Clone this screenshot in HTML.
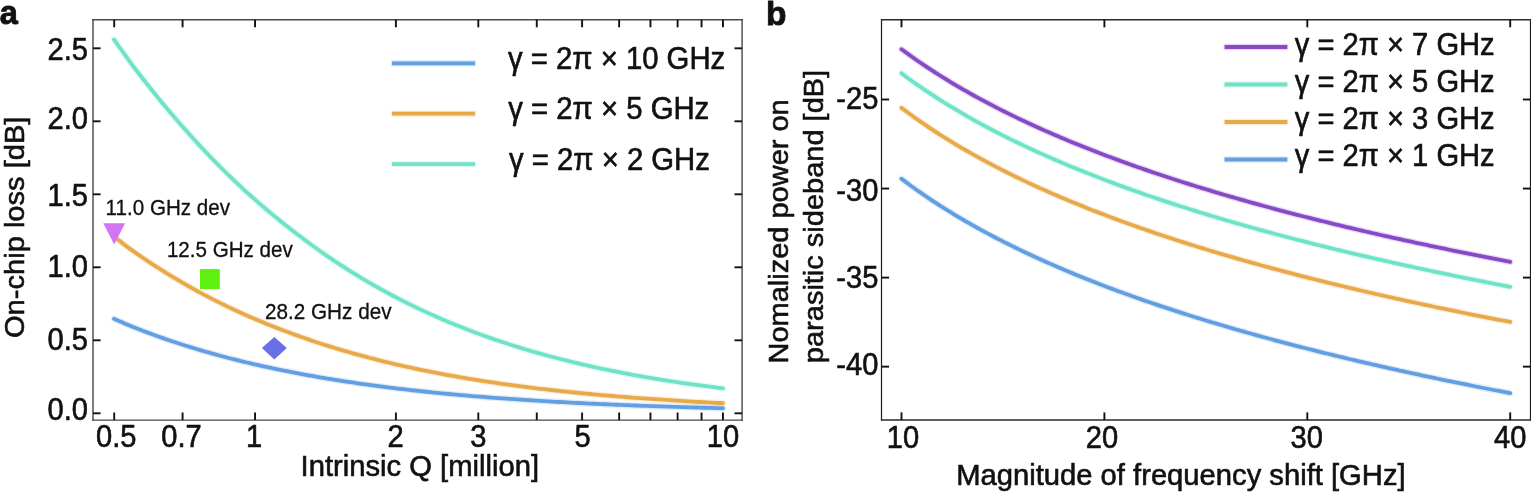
<!DOCTYPE html>
<html lang="en"><head><meta charset="utf-8"><title>Figure</title>
<style>
html,body{margin:0;padding:0;background:#fff;}
body{width:1531px;height:492px;overflow:hidden;}
svg{display:block;}
</style></head>
<body>
<svg width="1531" height="492" viewBox="0 0 1531 492" role="img" aria-label="Figure with panels a and b">
<rect width="1531" height="492" fill="#fff"/>
<path d="M114.00,39.55 L117.76,44.81 L121.46,50.01 L125.13,55.16 L128.81,60.26 L132.53,65.30 L136.33,70.29 L140.13,75.22 L143.94,80.10 L147.74,84.93 L151.55,89.70 L155.35,94.42 L159.16,99.08 L162.96,103.69 L166.77,108.25 L170.57,112.76 L174.38,117.22 L178.18,121.62 L181.98,125.97 L185.79,130.27 L189.59,134.52 L193.40,138.72 L197.20,142.87 L201.01,146.96 L204.81,151.01 L208.62,155.01 L212.42,158.96 L216.23,162.85 L220.03,166.70 L223.84,170.50 L227.64,174.26 L231.45,177.96 L235.27,181.62 L239.10,185.23 L242.95,188.79 L246.81,192.31 L250.67,195.78 L254.54,199.20 L258.41,202.58 L262.28,205.92 L266.15,209.21 L270.01,212.45 L273.87,215.65 L277.73,218.81 L281.57,221.93 L285.40,225.00 L289.22,228.03 L293.02,231.01 L296.83,233.96 L300.63,236.86 L304.43,239.73 L308.24,242.55 L312.04,245.33 L315.85,248.08 L319.65,250.78 L323.46,253.44 L327.26,256.07 L331.07,258.66 L334.87,261.21 L338.68,263.72 L342.48,266.20 L346.29,268.64 L350.09,271.04 L353.90,273.41 L357.70,275.74 L361.51,278.04 L365.31,280.30 L369.11,282.53 L372.92,284.73 L376.72,286.89 L380.53,289.02 L384.33,291.12 L388.14,293.18 L391.94,295.22 L395.75,297.22 L399.55,299.19 L403.36,301.13 L407.16,303.04 L410.97,304.92 L414.77,306.77 L418.58,308.59 L422.38,310.38 L426.19,312.15 L429.99,313.88 L433.79,315.59 L437.60,317.28 L441.40,318.93 L445.21,320.56 L449.01,322.16 L452.82,323.74 L456.62,325.29 L460.43,326.82 L464.23,328.32 L468.04,329.79 L471.84,331.25 L475.65,332.68 L479.45,334.08 L483.26,335.47 L487.06,336.83 L490.87,338.16 L494.67,339.48 L498.47,340.77 L502.28,342.05 L506.08,343.30 L509.89,344.53 L513.69,345.74 L517.50,346.93 L521.30,348.10 L525.11,349.25 L528.91,350.38 L532.72,351.49 L536.52,352.58 L540.33,353.66 L544.13,354.72 L547.94,355.75 L551.74,356.78 L555.55,357.78 L559.35,358.77 L563.15,359.74 L566.96,360.69 L570.76,361.63 L574.57,362.55 L578.37,363.45 L582.18,364.34 L585.98,365.22 L589.79,366.08 L593.59,366.92 L597.40,367.75 L601.20,368.57 L605.01,369.37 L608.81,370.16 L612.62,370.93 L616.42,371.69 L620.23,372.44 L624.03,373.17 L627.83,373.90 L631.64,374.60 L635.44,375.30 L639.25,375.99 L643.05,376.66 L646.86,377.32 L650.66,377.97 L654.47,378.61 L658.27,379.23 L662.08,379.85 L665.88,380.45 L669.69,381.05 L673.49,381.63 L677.30,382.20 L681.10,382.77 L684.90,383.32 L688.71,383.86 L692.51,384.40 L696.32,384.92 L700.12,385.44 L703.93,385.94 L707.73,386.44 L711.54,386.93 L715.34,387.41 L719.15,387.88 L722.95,388.34" fill="none" stroke="#6fe3c8" stroke-opacity="0.2" stroke-width="6.4" stroke-linejoin="round" stroke-linecap="round"/>
<path d="M114.00,39.55 L117.76,44.81 L121.46,50.01 L125.13,55.16 L128.81,60.26 L132.53,65.30 L136.33,70.29 L140.13,75.22 L143.94,80.10 L147.74,84.93 L151.55,89.70 L155.35,94.42 L159.16,99.08 L162.96,103.69 L166.77,108.25 L170.57,112.76 L174.38,117.22 L178.18,121.62 L181.98,125.97 L185.79,130.27 L189.59,134.52 L193.40,138.72 L197.20,142.87 L201.01,146.96 L204.81,151.01 L208.62,155.01 L212.42,158.96 L216.23,162.85 L220.03,166.70 L223.84,170.50 L227.64,174.26 L231.45,177.96 L235.27,181.62 L239.10,185.23 L242.95,188.79 L246.81,192.31 L250.67,195.78 L254.54,199.20 L258.41,202.58 L262.28,205.92 L266.15,209.21 L270.01,212.45 L273.87,215.65 L277.73,218.81 L281.57,221.93 L285.40,225.00 L289.22,228.03 L293.02,231.01 L296.83,233.96 L300.63,236.86 L304.43,239.73 L308.24,242.55 L312.04,245.33 L315.85,248.08 L319.65,250.78 L323.46,253.44 L327.26,256.07 L331.07,258.66 L334.87,261.21 L338.68,263.72 L342.48,266.20 L346.29,268.64 L350.09,271.04 L353.90,273.41 L357.70,275.74 L361.51,278.04 L365.31,280.30 L369.11,282.53 L372.92,284.73 L376.72,286.89 L380.53,289.02 L384.33,291.12 L388.14,293.18 L391.94,295.22 L395.75,297.22 L399.55,299.19 L403.36,301.13 L407.16,303.04 L410.97,304.92 L414.77,306.77 L418.58,308.59 L422.38,310.38 L426.19,312.15 L429.99,313.88 L433.79,315.59 L437.60,317.28 L441.40,318.93 L445.21,320.56 L449.01,322.16 L452.82,323.74 L456.62,325.29 L460.43,326.82 L464.23,328.32 L468.04,329.79 L471.84,331.25 L475.65,332.68 L479.45,334.08 L483.26,335.47 L487.06,336.83 L490.87,338.16 L494.67,339.48 L498.47,340.77 L502.28,342.05 L506.08,343.30 L509.89,344.53 L513.69,345.74 L517.50,346.93 L521.30,348.10 L525.11,349.25 L528.91,350.38 L532.72,351.49 L536.52,352.58 L540.33,353.66 L544.13,354.72 L547.94,355.75 L551.74,356.78 L555.55,357.78 L559.35,358.77 L563.15,359.74 L566.96,360.69 L570.76,361.63 L574.57,362.55 L578.37,363.45 L582.18,364.34 L585.98,365.22 L589.79,366.08 L593.59,366.92 L597.40,367.75 L601.20,368.57 L605.01,369.37 L608.81,370.16 L612.62,370.93 L616.42,371.69 L620.23,372.44 L624.03,373.17 L627.83,373.90 L631.64,374.60 L635.44,375.30 L639.25,375.99 L643.05,376.66 L646.86,377.32 L650.66,377.97 L654.47,378.61 L658.27,379.23 L662.08,379.85 L665.88,380.45 L669.69,381.05 L673.49,381.63 L677.30,382.20 L681.10,382.77 L684.90,383.32 L688.71,383.86 L692.51,384.40 L696.32,384.92 L700.12,385.44 L703.93,385.94 L707.73,386.44 L711.54,386.93 L715.34,387.41 L719.15,387.88 L722.95,388.34" fill="none" stroke="#6fe3c8" stroke-width="3.8" stroke-linejoin="round" stroke-linecap="round"/>
<path d="M114.00,236.69 L117.76,239.55 L121.46,242.38 L125.13,245.16 L128.81,247.91 L132.53,250.61 L136.33,253.28 L140.13,255.91 L143.94,258.50 L147.74,261.05 L151.55,263.57 L155.35,266.05 L159.16,268.49 L162.96,270.90 L166.77,273.27 L170.57,275.60 L174.38,277.90 L178.18,280.17 L181.98,282.40 L185.79,284.60 L189.59,286.76 L193.40,288.89 L197.20,290.99 L201.01,293.06 L204.81,295.09 L208.62,297.10 L212.42,299.07 L216.23,301.01 L220.03,302.92 L223.84,304.80 L227.64,306.66 L231.45,308.48 L235.27,310.27 L239.10,312.04 L242.95,313.78 L246.81,315.49 L250.67,317.17 L254.54,318.83 L258.41,320.46 L262.28,322.06 L266.15,323.64 L270.01,325.19 L273.87,326.72 L277.73,328.23 L281.57,329.70 L285.40,331.16 L289.22,332.59 L293.02,334.00 L296.83,335.38 L300.63,336.74 L304.43,338.08 L308.24,339.40 L312.04,340.69 L315.85,341.97 L319.65,343.22 L323.46,344.45 L327.26,345.66 L331.07,346.85 L334.87,348.03 L338.68,349.18 L342.48,350.31 L346.29,351.42 L350.09,352.52 L353.90,353.59 L357.70,354.65 L361.51,355.69 L365.31,356.71 L369.11,357.72 L372.92,358.71 L376.72,359.68 L380.53,360.63 L384.33,361.57 L388.14,362.49 L391.94,363.40 L395.75,364.29 L399.55,365.16 L403.36,366.02 L407.16,366.87 L410.97,367.70 L414.77,368.52 L418.58,369.32 L422.38,370.11 L426.19,370.88 L429.99,371.65 L433.79,372.39 L437.60,373.13 L441.40,373.85 L445.21,374.56 L449.01,375.26 L452.82,375.94 L456.62,376.62 L460.43,377.28 L464.23,377.93 L468.04,378.57 L471.84,379.19 L475.65,379.81 L479.45,380.42 L483.26,381.01 L487.06,381.59 L490.87,382.17 L494.67,382.73 L498.47,383.29 L502.28,383.83 L506.08,384.36 L509.89,384.89 L513.69,385.41 L517.50,385.91 L521.30,386.41 L525.11,386.90 L528.91,387.38 L532.72,387.85 L536.52,388.31 L540.33,388.77 L544.13,389.21 L547.94,389.65 L551.74,390.08 L555.55,390.51 L559.35,390.92 L563.15,391.33 L566.96,391.73 L570.76,392.12 L574.57,392.51 L578.37,392.89 L582.18,393.26 L585.98,393.63 L589.79,393.99 L593.59,394.34 L597.40,394.69 L601.20,395.03 L605.01,395.36 L608.81,395.69 L612.62,396.01 L616.42,396.33 L620.23,396.64 L624.03,396.94 L627.83,397.24 L631.64,397.54 L635.44,397.83 L639.25,398.11 L643.05,398.39 L646.86,398.66 L650.66,398.93 L654.47,399.19 L658.27,399.45 L662.08,399.71 L665.88,399.96 L669.69,400.20 L673.49,400.44 L677.30,400.68 L681.10,400.91 L684.90,401.14 L688.71,401.36 L692.51,401.58 L696.32,401.80 L700.12,402.01 L703.93,402.21 L707.73,402.42 L711.54,402.62 L715.34,402.82 L719.15,403.01 L722.95,403.20" fill="none" stroke="#e8a94a" stroke-opacity="0.2" stroke-width="6.4" stroke-linejoin="round" stroke-linecap="round"/>
<path d="M114.00,236.69 L117.76,239.55 L121.46,242.38 L125.13,245.16 L128.81,247.91 L132.53,250.61 L136.33,253.28 L140.13,255.91 L143.94,258.50 L147.74,261.05 L151.55,263.57 L155.35,266.05 L159.16,268.49 L162.96,270.90 L166.77,273.27 L170.57,275.60 L174.38,277.90 L178.18,280.17 L181.98,282.40 L185.79,284.60 L189.59,286.76 L193.40,288.89 L197.20,290.99 L201.01,293.06 L204.81,295.09 L208.62,297.10 L212.42,299.07 L216.23,301.01 L220.03,302.92 L223.84,304.80 L227.64,306.66 L231.45,308.48 L235.27,310.27 L239.10,312.04 L242.95,313.78 L246.81,315.49 L250.67,317.17 L254.54,318.83 L258.41,320.46 L262.28,322.06 L266.15,323.64 L270.01,325.19 L273.87,326.72 L277.73,328.23 L281.57,329.70 L285.40,331.16 L289.22,332.59 L293.02,334.00 L296.83,335.38 L300.63,336.74 L304.43,338.08 L308.24,339.40 L312.04,340.69 L315.85,341.97 L319.65,343.22 L323.46,344.45 L327.26,345.66 L331.07,346.85 L334.87,348.03 L338.68,349.18 L342.48,350.31 L346.29,351.42 L350.09,352.52 L353.90,353.59 L357.70,354.65 L361.51,355.69 L365.31,356.71 L369.11,357.72 L372.92,358.71 L376.72,359.68 L380.53,360.63 L384.33,361.57 L388.14,362.49 L391.94,363.40 L395.75,364.29 L399.55,365.16 L403.36,366.02 L407.16,366.87 L410.97,367.70 L414.77,368.52 L418.58,369.32 L422.38,370.11 L426.19,370.88 L429.99,371.65 L433.79,372.39 L437.60,373.13 L441.40,373.85 L445.21,374.56 L449.01,375.26 L452.82,375.94 L456.62,376.62 L460.43,377.28 L464.23,377.93 L468.04,378.57 L471.84,379.19 L475.65,379.81 L479.45,380.42 L483.26,381.01 L487.06,381.59 L490.87,382.17 L494.67,382.73 L498.47,383.29 L502.28,383.83 L506.08,384.36 L509.89,384.89 L513.69,385.41 L517.50,385.91 L521.30,386.41 L525.11,386.90 L528.91,387.38 L532.72,387.85 L536.52,388.31 L540.33,388.77 L544.13,389.21 L547.94,389.65 L551.74,390.08 L555.55,390.51 L559.35,390.92 L563.15,391.33 L566.96,391.73 L570.76,392.12 L574.57,392.51 L578.37,392.89 L582.18,393.26 L585.98,393.63 L589.79,393.99 L593.59,394.34 L597.40,394.69 L601.20,395.03 L605.01,395.36 L608.81,395.69 L612.62,396.01 L616.42,396.33 L620.23,396.64 L624.03,396.94 L627.83,397.24 L631.64,397.54 L635.44,397.83 L639.25,398.11 L643.05,398.39 L646.86,398.66 L650.66,398.93 L654.47,399.19 L658.27,399.45 L662.08,399.71 L665.88,399.96 L669.69,400.20 L673.49,400.44 L677.30,400.68 L681.10,400.91 L684.90,401.14 L688.71,401.36 L692.51,401.58 L696.32,401.80 L700.12,402.01 L703.93,402.21 L707.73,402.42 L711.54,402.62 L715.34,402.82 L719.15,403.01 L722.95,403.20" fill="none" stroke="#e8a94a" stroke-width="3.8" stroke-linejoin="round" stroke-linecap="round"/>
<path d="M114.00,318.86 L117.76,320.49 L121.46,322.10 L125.13,323.67 L128.81,325.23 L132.53,326.75 L136.33,328.26 L140.13,329.73 L143.94,331.19 L147.74,332.62 L151.55,334.02 L155.35,335.41 L159.16,336.77 L162.96,338.11 L166.77,339.43 L170.57,340.72 L174.38,341.99 L178.18,343.25 L181.98,344.48 L185.79,345.69 L189.59,346.88 L193.40,348.05 L197.20,349.20 L201.01,350.33 L204.81,351.45 L208.62,352.54 L212.42,353.62 L216.23,354.67 L220.03,355.71 L223.84,356.73 L227.64,357.74 L231.45,358.73 L235.27,359.70 L239.10,360.65 L242.95,361.59 L246.81,362.51 L250.67,363.42 L254.54,364.31 L258.41,365.18 L262.28,366.04 L266.15,366.89 L270.01,367.72 L273.87,368.53 L277.73,369.34 L281.57,370.13 L285.40,370.90 L289.22,371.66 L293.02,372.41 L296.83,373.14 L300.63,373.87 L304.43,374.58 L308.24,375.27 L312.04,375.96 L315.85,376.63 L319.65,377.29 L323.46,377.94 L327.26,378.58 L331.07,379.21 L334.87,379.82 L338.68,380.43 L342.48,381.02 L346.29,381.61 L350.09,382.18 L353.90,382.74 L357.70,383.30 L361.51,383.84 L365.31,384.38 L369.11,384.90 L372.92,385.42 L376.72,385.92 L380.53,386.42 L384.33,386.91 L388.14,387.39 L391.94,387.86 L395.75,388.32 L399.55,388.78 L403.36,389.22 L407.16,389.66 L410.97,390.09 L414.77,390.51 L418.58,390.93 L422.38,391.34 L426.19,391.74 L429.99,392.13 L433.79,392.52 L437.60,392.90 L441.40,393.27 L445.21,393.63 L449.01,393.99 L452.82,394.35 L456.62,394.69 L460.43,395.03 L464.23,395.37 L468.04,395.70 L471.84,396.02 L475.65,396.33 L479.45,396.64 L483.26,396.95 L487.06,397.25 L490.87,397.54 L494.67,397.83 L498.47,398.12 L502.28,398.39 L506.08,398.67 L509.89,398.94 L513.69,399.20 L517.50,399.46 L521.30,399.71 L525.11,399.96 L528.91,400.21 L532.72,400.45 L536.52,400.68 L540.33,400.91 L544.13,401.14 L547.94,401.37 L551.74,401.58 L555.55,401.80 L559.35,402.01 L563.15,402.22 L566.96,402.42 L570.76,402.62 L574.57,402.82 L578.37,403.01 L582.18,403.20 L585.98,403.39 L589.79,403.57 L593.59,403.75 L597.40,403.92 L601.20,404.10 L605.01,404.27 L608.81,404.43 L612.62,404.60 L616.42,404.76 L620.23,404.91 L624.03,405.07 L627.83,405.22 L631.64,405.37 L635.44,405.52 L639.25,405.66 L643.05,405.80 L646.86,405.94 L650.66,406.07 L654.47,406.21 L658.27,406.34 L662.08,406.47 L665.88,406.59 L669.69,406.72 L673.49,406.84 L677.30,406.96 L681.10,407.07 L684.90,407.19 L688.71,407.30 L692.51,407.41 L696.32,407.52 L700.12,407.63 L703.93,407.73 L707.73,407.84 L711.54,407.94 L715.34,408.04 L719.15,408.13 L722.95,408.23" fill="none" stroke="#629fe2" stroke-opacity="0.2" stroke-width="6.4" stroke-linejoin="round" stroke-linecap="round"/>
<path d="M114.00,318.86 L117.76,320.49 L121.46,322.10 L125.13,323.67 L128.81,325.23 L132.53,326.75 L136.33,328.26 L140.13,329.73 L143.94,331.19 L147.74,332.62 L151.55,334.02 L155.35,335.41 L159.16,336.77 L162.96,338.11 L166.77,339.43 L170.57,340.72 L174.38,341.99 L178.18,343.25 L181.98,344.48 L185.79,345.69 L189.59,346.88 L193.40,348.05 L197.20,349.20 L201.01,350.33 L204.81,351.45 L208.62,352.54 L212.42,353.62 L216.23,354.67 L220.03,355.71 L223.84,356.73 L227.64,357.74 L231.45,358.73 L235.27,359.70 L239.10,360.65 L242.95,361.59 L246.81,362.51 L250.67,363.42 L254.54,364.31 L258.41,365.18 L262.28,366.04 L266.15,366.89 L270.01,367.72 L273.87,368.53 L277.73,369.34 L281.57,370.13 L285.40,370.90 L289.22,371.66 L293.02,372.41 L296.83,373.14 L300.63,373.87 L304.43,374.58 L308.24,375.27 L312.04,375.96 L315.85,376.63 L319.65,377.29 L323.46,377.94 L327.26,378.58 L331.07,379.21 L334.87,379.82 L338.68,380.43 L342.48,381.02 L346.29,381.61 L350.09,382.18 L353.90,382.74 L357.70,383.30 L361.51,383.84 L365.31,384.38 L369.11,384.90 L372.92,385.42 L376.72,385.92 L380.53,386.42 L384.33,386.91 L388.14,387.39 L391.94,387.86 L395.75,388.32 L399.55,388.78 L403.36,389.22 L407.16,389.66 L410.97,390.09 L414.77,390.51 L418.58,390.93 L422.38,391.34 L426.19,391.74 L429.99,392.13 L433.79,392.52 L437.60,392.90 L441.40,393.27 L445.21,393.63 L449.01,393.99 L452.82,394.35 L456.62,394.69 L460.43,395.03 L464.23,395.37 L468.04,395.70 L471.84,396.02 L475.65,396.33 L479.45,396.64 L483.26,396.95 L487.06,397.25 L490.87,397.54 L494.67,397.83 L498.47,398.12 L502.28,398.39 L506.08,398.67 L509.89,398.94 L513.69,399.20 L517.50,399.46 L521.30,399.71 L525.11,399.96 L528.91,400.21 L532.72,400.45 L536.52,400.68 L540.33,400.91 L544.13,401.14 L547.94,401.37 L551.74,401.58 L555.55,401.80 L559.35,402.01 L563.15,402.22 L566.96,402.42 L570.76,402.62 L574.57,402.82 L578.37,403.01 L582.18,403.20 L585.98,403.39 L589.79,403.57 L593.59,403.75 L597.40,403.92 L601.20,404.10 L605.01,404.27 L608.81,404.43 L612.62,404.60 L616.42,404.76 L620.23,404.91 L624.03,405.07 L627.83,405.22 L631.64,405.37 L635.44,405.52 L639.25,405.66 L643.05,405.80 L646.86,405.94 L650.66,406.07 L654.47,406.21 L658.27,406.34 L662.08,406.47 L665.88,406.59 L669.69,406.72 L673.49,406.84 L677.30,406.96 L681.10,407.07 L684.90,407.19 L688.71,407.30 L692.51,407.41 L696.32,407.52 L700.12,407.63 L703.93,407.73 L707.73,407.84 L711.54,407.94 L715.34,408.04 L719.15,408.13 L722.95,408.23" fill="none" stroke="#629fe2" stroke-width="3.8" stroke-linejoin="round" stroke-linecap="round"/>
<path d="M901.50,49.28 L905.30,52.07 L909.11,54.83 L912.91,57.53 L916.72,60.19 L920.52,62.80 L924.33,65.37 L928.13,67.90 L931.93,70.39 L935.74,72.85 L939.54,75.26 L943.35,77.64 L947.15,79.98 L950.96,82.29 L954.76,84.57 L958.57,86.81 L962.37,89.02 L966.17,91.20 L969.98,93.35 L973.78,95.47 L977.59,97.57 L981.39,99.63 L985.20,101.67 L989.00,103.69 L992.80,105.67 L996.61,107.64 L1000.41,109.57 L1004.22,111.49 L1008.02,113.38 L1011.83,115.25 L1015.63,117.09 L1019.44,118.92 L1023.24,120.72 L1027.04,122.51 L1030.85,124.27 L1034.65,126.01 L1038.46,127.74 L1042.26,129.44 L1046.07,131.13 L1049.87,132.80 L1053.67,134.45 L1057.48,136.09 L1061.28,137.70 L1065.09,139.31 L1068.89,140.89 L1072.70,142.46 L1076.50,144.01 L1080.31,145.55 L1084.11,147.07 L1087.91,148.58 L1091.72,150.07 L1095.52,151.55 L1099.33,153.02 L1103.13,154.47 L1106.94,155.91 L1110.74,157.33 L1114.55,158.74 L1118.35,160.14 L1122.15,161.53 L1125.96,162.91 L1129.76,164.27 L1133.57,165.62 L1137.37,166.96 L1141.18,168.29 L1144.98,169.60 L1148.78,170.91 L1152.59,172.20 L1156.39,173.49 L1160.20,174.76 L1164.00,176.02 L1167.81,177.28 L1171.61,178.52 L1175.41,179.75 L1179.22,180.98 L1183.02,182.19 L1186.83,183.39 L1190.63,184.59 L1194.44,185.78 L1198.24,186.95 L1202.05,188.12 L1205.85,189.28 L1209.65,190.43 L1213.46,191.57 L1217.26,192.71 L1221.07,193.83 L1224.87,194.95 L1228.68,196.06 L1232.48,197.16 L1236.28,198.26 L1240.09,199.34 L1243.89,200.42 L1247.70,201.49 L1251.50,202.56 L1255.31,203.62 L1259.11,204.67 L1262.92,205.71 L1266.72,206.74 L1270.52,207.77 L1274.33,208.80 L1278.13,209.81 L1281.94,210.82 L1285.74,211.82 L1289.55,212.82 L1293.35,213.81 L1297.15,214.79 L1300.96,215.77 L1304.76,216.74 L1308.57,217.70 L1312.37,218.66 L1316.18,219.62 L1319.98,220.56 L1323.79,221.50 L1327.59,222.44 L1331.39,223.37 L1335.20,224.30 L1339.00,225.21 L1342.81,226.13 L1346.61,227.04 L1350.42,227.94 L1354.22,228.84 L1358.03,229.73 L1361.83,230.62 L1365.63,231.50 L1369.44,232.38 L1373.24,233.25 L1377.05,234.12 L1380.85,234.98 L1384.66,235.84 L1388.46,236.69 L1392.26,237.54 L1396.07,238.39 L1399.87,239.23 L1403.68,240.06 L1407.48,240.89 L1411.29,241.72 L1415.09,242.54 L1418.89,243.36 L1422.70,244.17 L1426.50,244.98 L1430.31,245.78 L1434.11,246.58 L1437.92,247.38 L1441.72,248.17 L1445.53,248.96 L1449.33,249.75 L1453.13,250.53 L1456.94,251.30 L1460.74,252.08 L1464.55,252.84 L1468.35,253.61 L1472.16,254.37 L1475.96,255.13 L1479.76,255.88 L1483.57,256.63 L1487.37,257.38 L1491.18,258.12 L1494.98,258.86 L1498.79,259.60 L1502.59,260.33 L1506.40,261.06 L1510.20,261.78" fill="none" stroke="#864ac6" stroke-opacity="0.2" stroke-width="6.4" stroke-linejoin="round" stroke-linecap="round"/>
<path d="M901.50,49.28 L905.30,52.07 L909.11,54.83 L912.91,57.53 L916.72,60.19 L920.52,62.80 L924.33,65.37 L928.13,67.90 L931.93,70.39 L935.74,72.85 L939.54,75.26 L943.35,77.64 L947.15,79.98 L950.96,82.29 L954.76,84.57 L958.57,86.81 L962.37,89.02 L966.17,91.20 L969.98,93.35 L973.78,95.47 L977.59,97.57 L981.39,99.63 L985.20,101.67 L989.00,103.69 L992.80,105.67 L996.61,107.64 L1000.41,109.57 L1004.22,111.49 L1008.02,113.38 L1011.83,115.25 L1015.63,117.09 L1019.44,118.92 L1023.24,120.72 L1027.04,122.51 L1030.85,124.27 L1034.65,126.01 L1038.46,127.74 L1042.26,129.44 L1046.07,131.13 L1049.87,132.80 L1053.67,134.45 L1057.48,136.09 L1061.28,137.70 L1065.09,139.31 L1068.89,140.89 L1072.70,142.46 L1076.50,144.01 L1080.31,145.55 L1084.11,147.07 L1087.91,148.58 L1091.72,150.07 L1095.52,151.55 L1099.33,153.02 L1103.13,154.47 L1106.94,155.91 L1110.74,157.33 L1114.55,158.74 L1118.35,160.14 L1122.15,161.53 L1125.96,162.91 L1129.76,164.27 L1133.57,165.62 L1137.37,166.96 L1141.18,168.29 L1144.98,169.60 L1148.78,170.91 L1152.59,172.20 L1156.39,173.49 L1160.20,174.76 L1164.00,176.02 L1167.81,177.28 L1171.61,178.52 L1175.41,179.75 L1179.22,180.98 L1183.02,182.19 L1186.83,183.39 L1190.63,184.59 L1194.44,185.78 L1198.24,186.95 L1202.05,188.12 L1205.85,189.28 L1209.65,190.43 L1213.46,191.57 L1217.26,192.71 L1221.07,193.83 L1224.87,194.95 L1228.68,196.06 L1232.48,197.16 L1236.28,198.26 L1240.09,199.34 L1243.89,200.42 L1247.70,201.49 L1251.50,202.56 L1255.31,203.62 L1259.11,204.67 L1262.92,205.71 L1266.72,206.74 L1270.52,207.77 L1274.33,208.80 L1278.13,209.81 L1281.94,210.82 L1285.74,211.82 L1289.55,212.82 L1293.35,213.81 L1297.15,214.79 L1300.96,215.77 L1304.76,216.74 L1308.57,217.70 L1312.37,218.66 L1316.18,219.62 L1319.98,220.56 L1323.79,221.50 L1327.59,222.44 L1331.39,223.37 L1335.20,224.30 L1339.00,225.21 L1342.81,226.13 L1346.61,227.04 L1350.42,227.94 L1354.22,228.84 L1358.03,229.73 L1361.83,230.62 L1365.63,231.50 L1369.44,232.38 L1373.24,233.25 L1377.05,234.12 L1380.85,234.98 L1384.66,235.84 L1388.46,236.69 L1392.26,237.54 L1396.07,238.39 L1399.87,239.23 L1403.68,240.06 L1407.48,240.89 L1411.29,241.72 L1415.09,242.54 L1418.89,243.36 L1422.70,244.17 L1426.50,244.98 L1430.31,245.78 L1434.11,246.58 L1437.92,247.38 L1441.72,248.17 L1445.53,248.96 L1449.33,249.75 L1453.13,250.53 L1456.94,251.30 L1460.74,252.08 L1464.55,252.84 L1468.35,253.61 L1472.16,254.37 L1475.96,255.13 L1479.76,255.88 L1483.57,256.63 L1487.37,257.38 L1491.18,258.12 L1494.98,258.86 L1498.79,259.60 L1502.59,260.33 L1506.40,261.06 L1510.20,261.78" fill="none" stroke="#864ac6" stroke-width="3.8" stroke-linejoin="round" stroke-linecap="round"/>
<path d="M901.50,73.32 L905.30,76.15 L909.11,78.94 L912.91,81.68 L916.72,84.36 L920.52,87.01 L924.33,89.61 L928.13,92.16 L931.93,94.68 L935.74,97.16 L939.54,99.59 L943.35,102.00 L947.15,104.36 L950.96,106.69 L954.76,108.98 L958.57,111.24 L962.37,113.47 L966.17,115.67 L969.98,117.84 L973.78,119.97 L977.59,122.08 L981.39,124.16 L985.20,126.21 L989.00,128.24 L992.80,130.24 L996.61,132.22 L1000.41,134.17 L1004.22,136.09 L1008.02,137.99 L1011.83,139.87 L1015.63,141.73 L1019.44,143.56 L1023.24,145.38 L1027.04,147.17 L1030.85,148.94 L1034.65,150.70 L1038.46,152.43 L1042.26,154.14 L1046.07,155.84 L1049.87,157.51 L1053.67,159.17 L1057.48,160.81 L1061.28,162.44 L1065.09,164.05 L1068.89,165.64 L1072.70,167.21 L1076.50,168.77 L1080.31,170.31 L1084.11,171.84 L1087.91,173.35 L1091.72,174.85 L1095.52,176.34 L1099.33,177.81 L1103.13,179.26 L1106.94,180.71 L1110.74,182.14 L1114.55,183.55 L1118.35,184.96 L1122.15,186.35 L1125.96,187.73 L1129.76,189.10 L1133.57,190.45 L1137.37,191.79 L1141.18,193.12 L1144.98,194.45 L1148.78,195.75 L1152.59,197.05 L1156.39,198.34 L1160.20,199.62 L1164.00,200.88 L1167.81,202.14 L1171.61,203.38 L1175.41,204.62 L1179.22,205.85 L1183.02,207.06 L1186.83,208.27 L1190.63,209.47 L1194.44,210.66 L1198.24,211.84 L1202.05,213.01 L1205.85,214.17 L1209.65,215.32 L1213.46,216.47 L1217.26,217.60 L1221.07,218.73 L1224.87,219.85 L1228.68,220.97 L1232.48,222.07 L1236.28,223.17 L1240.09,224.25 L1243.89,225.33 L1247.70,226.41 L1251.50,227.47 L1255.31,228.53 L1259.11,229.58 L1262.92,230.63 L1266.72,231.67 L1270.52,232.70 L1274.33,233.72 L1278.13,234.74 L1281.94,235.75 L1285.74,236.75 L1289.55,237.75 L1293.35,238.74 L1297.15,239.73 L1300.96,240.70 L1304.76,241.68 L1308.57,242.64 L1312.37,243.60 L1316.18,244.56 L1319.98,245.51 L1323.79,246.45 L1327.59,247.39 L1331.39,248.32 L1335.20,249.24 L1339.00,250.17 L1342.81,251.08 L1346.61,251.99 L1350.42,252.89 L1354.22,253.79 L1358.03,254.69 L1361.83,255.58 L1365.63,256.46 L1369.44,257.34 L1373.24,258.21 L1377.05,259.08 L1380.85,259.94 L1384.66,260.80 L1388.46,261.66 L1392.26,262.51 L1396.07,263.35 L1399.87,264.19 L1403.68,265.03 L1407.48,265.86 L1411.29,266.69 L1415.09,267.51 L1418.89,268.33 L1422.70,269.14 L1426.50,269.95 L1430.31,270.76 L1434.11,271.56 L1437.92,272.36 L1441.72,273.15 L1445.53,273.94 L1449.33,274.72 L1453.13,275.51 L1456.94,276.28 L1460.74,277.06 L1464.55,277.83 L1468.35,278.59 L1472.16,279.35 L1475.96,280.11 L1479.76,280.87 L1483.57,281.62 L1487.37,282.36 L1491.18,283.11 L1494.98,283.85 L1498.79,284.58 L1502.59,285.32 L1506.40,286.05 L1510.20,286.77" fill="none" stroke="#6fe3c8" stroke-opacity="0.2" stroke-width="6.4" stroke-linejoin="round" stroke-linecap="round"/>
<path d="M901.50,73.32 L905.30,76.15 L909.11,78.94 L912.91,81.68 L916.72,84.36 L920.52,87.01 L924.33,89.61 L928.13,92.16 L931.93,94.68 L935.74,97.16 L939.54,99.59 L943.35,102.00 L947.15,104.36 L950.96,106.69 L954.76,108.98 L958.57,111.24 L962.37,113.47 L966.17,115.67 L969.98,117.84 L973.78,119.97 L977.59,122.08 L981.39,124.16 L985.20,126.21 L989.00,128.24 L992.80,130.24 L996.61,132.22 L1000.41,134.17 L1004.22,136.09 L1008.02,137.99 L1011.83,139.87 L1015.63,141.73 L1019.44,143.56 L1023.24,145.38 L1027.04,147.17 L1030.85,148.94 L1034.65,150.70 L1038.46,152.43 L1042.26,154.14 L1046.07,155.84 L1049.87,157.51 L1053.67,159.17 L1057.48,160.81 L1061.28,162.44 L1065.09,164.05 L1068.89,165.64 L1072.70,167.21 L1076.50,168.77 L1080.31,170.31 L1084.11,171.84 L1087.91,173.35 L1091.72,174.85 L1095.52,176.34 L1099.33,177.81 L1103.13,179.26 L1106.94,180.71 L1110.74,182.14 L1114.55,183.55 L1118.35,184.96 L1122.15,186.35 L1125.96,187.73 L1129.76,189.10 L1133.57,190.45 L1137.37,191.79 L1141.18,193.12 L1144.98,194.45 L1148.78,195.75 L1152.59,197.05 L1156.39,198.34 L1160.20,199.62 L1164.00,200.88 L1167.81,202.14 L1171.61,203.38 L1175.41,204.62 L1179.22,205.85 L1183.02,207.06 L1186.83,208.27 L1190.63,209.47 L1194.44,210.66 L1198.24,211.84 L1202.05,213.01 L1205.85,214.17 L1209.65,215.32 L1213.46,216.47 L1217.26,217.60 L1221.07,218.73 L1224.87,219.85 L1228.68,220.97 L1232.48,222.07 L1236.28,223.17 L1240.09,224.25 L1243.89,225.33 L1247.70,226.41 L1251.50,227.47 L1255.31,228.53 L1259.11,229.58 L1262.92,230.63 L1266.72,231.67 L1270.52,232.70 L1274.33,233.72 L1278.13,234.74 L1281.94,235.75 L1285.74,236.75 L1289.55,237.75 L1293.35,238.74 L1297.15,239.73 L1300.96,240.70 L1304.76,241.68 L1308.57,242.64 L1312.37,243.60 L1316.18,244.56 L1319.98,245.51 L1323.79,246.45 L1327.59,247.39 L1331.39,248.32 L1335.20,249.24 L1339.00,250.17 L1342.81,251.08 L1346.61,251.99 L1350.42,252.89 L1354.22,253.79 L1358.03,254.69 L1361.83,255.58 L1365.63,256.46 L1369.44,257.34 L1373.24,258.21 L1377.05,259.08 L1380.85,259.94 L1384.66,260.80 L1388.46,261.66 L1392.26,262.51 L1396.07,263.35 L1399.87,264.19 L1403.68,265.03 L1407.48,265.86 L1411.29,266.69 L1415.09,267.51 L1418.89,268.33 L1422.70,269.14 L1426.50,269.95 L1430.31,270.76 L1434.11,271.56 L1437.92,272.36 L1441.72,273.15 L1445.53,273.94 L1449.33,274.72 L1453.13,275.51 L1456.94,276.28 L1460.74,277.06 L1464.55,277.83 L1468.35,278.59 L1472.16,279.35 L1475.96,280.11 L1479.76,280.87 L1483.57,281.62 L1487.37,282.36 L1491.18,283.11 L1494.98,283.85 L1498.79,284.58 L1502.59,285.32 L1506.40,286.05 L1510.20,286.77" fill="none" stroke="#6fe3c8" stroke-width="3.8" stroke-linejoin="round" stroke-linecap="round"/>
<path d="M901.50,107.87 L905.30,110.73 L909.11,113.54 L912.91,116.30 L916.72,119.01 L920.52,121.67 L924.33,124.29 L928.13,126.86 L931.93,129.40 L935.74,131.89 L939.54,134.34 L943.35,136.76 L947.15,139.14 L950.96,141.48 L954.76,143.79 L958.57,146.06 L962.37,148.30 L966.17,150.51 L969.98,152.69 L973.78,154.83 L977.59,156.95 L981.39,159.04 L985.20,161.10 L989.00,163.14 L992.80,165.15 L996.61,167.13 L1000.41,169.09 L1004.22,171.02 L1008.02,172.93 L1011.83,174.82 L1015.63,176.68 L1019.44,178.52 L1023.24,180.34 L1027.04,182.14 L1030.85,183.92 L1034.65,185.68 L1038.46,187.42 L1042.26,189.14 L1046.07,190.84 L1049.87,192.52 L1053.67,194.18 L1057.48,195.83 L1061.28,197.46 L1065.09,199.07 L1068.89,200.66 L1072.70,202.24 L1076.50,203.80 L1080.31,205.35 L1084.11,206.88 L1087.91,208.40 L1091.72,209.90 L1095.52,211.39 L1099.33,212.87 L1103.13,214.32 L1106.94,215.77 L1110.74,217.20 L1114.55,218.62 L1118.35,220.03 L1122.15,221.42 L1125.96,222.81 L1129.76,224.18 L1133.57,225.53 L1137.37,226.88 L1141.18,228.21 L1144.98,229.54 L1148.78,230.85 L1152.59,232.15 L1156.39,233.44 L1160.20,234.72 L1164.00,235.98 L1167.81,237.24 L1171.61,238.49 L1175.41,239.73 L1179.22,240.96 L1183.02,242.18 L1186.83,243.39 L1190.63,244.58 L1194.44,245.78 L1198.24,246.96 L1202.05,248.13 L1205.85,249.29 L1209.65,250.45 L1213.46,251.59 L1217.26,252.73 L1221.07,253.86 L1224.87,254.98 L1228.68,256.10 L1232.48,257.20 L1236.28,258.30 L1240.09,259.39 L1243.89,260.47 L1247.70,261.55 L1251.50,262.61 L1255.31,263.67 L1259.11,264.73 L1262.92,265.77 L1266.72,266.81 L1270.52,267.84 L1274.33,268.87 L1278.13,269.89 L1281.94,270.90 L1285.74,271.90 L1289.55,272.90 L1293.35,273.89 L1297.15,274.88 L1300.96,275.86 L1304.76,276.83 L1308.57,277.80 L1312.37,278.76 L1316.18,279.72 L1319.98,280.67 L1323.79,281.61 L1327.59,282.55 L1331.39,283.48 L1335.20,284.41 L1339.00,285.33 L1342.81,286.24 L1346.61,287.15 L1350.42,288.06 L1354.22,288.96 L1358.03,289.85 L1361.83,290.74 L1365.63,291.63 L1369.44,292.51 L1373.24,293.38 L1377.05,294.25 L1380.85,295.12 L1384.66,295.98 L1388.46,296.83 L1392.26,297.68 L1396.07,298.53 L1399.87,299.37 L1403.68,300.21 L1407.48,301.04 L1411.29,301.86 L1415.09,302.69 L1418.89,303.51 L1422.70,304.32 L1426.50,305.13 L1430.31,305.94 L1434.11,306.74 L1437.92,307.54 L1441.72,308.33 L1445.53,309.12 L1449.33,309.91 L1453.13,310.69 L1456.94,311.47 L1460.74,312.24 L1464.55,313.01 L1468.35,313.78 L1472.16,314.54 L1475.96,315.30 L1479.76,316.05 L1483.57,316.80 L1487.37,317.55 L1491.18,318.30 L1494.98,319.04 L1498.79,319.77 L1502.59,320.51 L1506.40,321.24 L1510.20,321.96" fill="none" stroke="#e8a94a" stroke-opacity="0.2" stroke-width="6.4" stroke-linejoin="round" stroke-linecap="round"/>
<path d="M901.50,107.87 L905.30,110.73 L909.11,113.54 L912.91,116.30 L916.72,119.01 L920.52,121.67 L924.33,124.29 L928.13,126.86 L931.93,129.40 L935.74,131.89 L939.54,134.34 L943.35,136.76 L947.15,139.14 L950.96,141.48 L954.76,143.79 L958.57,146.06 L962.37,148.30 L966.17,150.51 L969.98,152.69 L973.78,154.83 L977.59,156.95 L981.39,159.04 L985.20,161.10 L989.00,163.14 L992.80,165.15 L996.61,167.13 L1000.41,169.09 L1004.22,171.02 L1008.02,172.93 L1011.83,174.82 L1015.63,176.68 L1019.44,178.52 L1023.24,180.34 L1027.04,182.14 L1030.85,183.92 L1034.65,185.68 L1038.46,187.42 L1042.26,189.14 L1046.07,190.84 L1049.87,192.52 L1053.67,194.18 L1057.48,195.83 L1061.28,197.46 L1065.09,199.07 L1068.89,200.66 L1072.70,202.24 L1076.50,203.80 L1080.31,205.35 L1084.11,206.88 L1087.91,208.40 L1091.72,209.90 L1095.52,211.39 L1099.33,212.87 L1103.13,214.32 L1106.94,215.77 L1110.74,217.20 L1114.55,218.62 L1118.35,220.03 L1122.15,221.42 L1125.96,222.81 L1129.76,224.18 L1133.57,225.53 L1137.37,226.88 L1141.18,228.21 L1144.98,229.54 L1148.78,230.85 L1152.59,232.15 L1156.39,233.44 L1160.20,234.72 L1164.00,235.98 L1167.81,237.24 L1171.61,238.49 L1175.41,239.73 L1179.22,240.96 L1183.02,242.18 L1186.83,243.39 L1190.63,244.58 L1194.44,245.78 L1198.24,246.96 L1202.05,248.13 L1205.85,249.29 L1209.65,250.45 L1213.46,251.59 L1217.26,252.73 L1221.07,253.86 L1224.87,254.98 L1228.68,256.10 L1232.48,257.20 L1236.28,258.30 L1240.09,259.39 L1243.89,260.47 L1247.70,261.55 L1251.50,262.61 L1255.31,263.67 L1259.11,264.73 L1262.92,265.77 L1266.72,266.81 L1270.52,267.84 L1274.33,268.87 L1278.13,269.89 L1281.94,270.90 L1285.74,271.90 L1289.55,272.90 L1293.35,273.89 L1297.15,274.88 L1300.96,275.86 L1304.76,276.83 L1308.57,277.80 L1312.37,278.76 L1316.18,279.72 L1319.98,280.67 L1323.79,281.61 L1327.59,282.55 L1331.39,283.48 L1335.20,284.41 L1339.00,285.33 L1342.81,286.24 L1346.61,287.15 L1350.42,288.06 L1354.22,288.96 L1358.03,289.85 L1361.83,290.74 L1365.63,291.63 L1369.44,292.51 L1373.24,293.38 L1377.05,294.25 L1380.85,295.12 L1384.66,295.98 L1388.46,296.83 L1392.26,297.68 L1396.07,298.53 L1399.87,299.37 L1403.68,300.21 L1407.48,301.04 L1411.29,301.86 L1415.09,302.69 L1418.89,303.51 L1422.70,304.32 L1426.50,305.13 L1430.31,305.94 L1434.11,306.74 L1437.92,307.54 L1441.72,308.33 L1445.53,309.12 L1449.33,309.91 L1453.13,310.69 L1456.94,311.47 L1460.74,312.24 L1464.55,313.01 L1468.35,313.78 L1472.16,314.54 L1475.96,315.30 L1479.76,316.05 L1483.57,316.80 L1487.37,317.55 L1491.18,318.30 L1494.98,319.04 L1498.79,319.77 L1502.59,320.51 L1506.40,321.24 L1510.20,321.96" fill="none" stroke="#e8a94a" stroke-width="3.8" stroke-linejoin="round" stroke-linecap="round"/>
<path d="M901.50,178.75 L905.30,181.63 L909.11,184.45 L912.91,187.22 L916.72,189.94 L920.52,192.61 L924.33,195.24 L928.13,197.82 L931.93,200.36 L935.74,202.87 L939.54,205.33 L943.35,207.75 L947.15,210.13 L950.96,212.48 L954.76,214.80 L958.57,217.08 L962.37,219.32 L966.17,221.54 L969.98,223.72 L973.78,225.87 L977.59,228.00 L981.39,230.09 L985.20,232.16 L989.00,234.20 L992.80,236.21 L996.61,238.20 L1000.41,240.16 L1004.22,242.10 L1008.02,244.01 L1011.83,245.90 L1015.63,247.77 L1019.44,249.61 L1023.24,251.44 L1027.04,253.24 L1030.85,255.02 L1034.65,256.78 L1038.46,258.52 L1042.26,260.24 L1046.07,261.95 L1049.87,263.63 L1053.67,265.30 L1057.48,266.94 L1061.28,268.58 L1065.09,270.19 L1068.89,271.79 L1072.70,273.37 L1076.50,274.93 L1080.31,276.48 L1084.11,278.02 L1087.91,279.53 L1091.72,281.04 L1095.52,282.53 L1099.33,284.00 L1103.13,285.47 L1106.94,286.91 L1110.74,288.35 L1114.55,289.77 L1118.35,291.18 L1122.15,292.57 L1125.96,293.96 L1129.76,295.33 L1133.57,296.69 L1137.37,298.03 L1141.18,299.37 L1144.98,300.69 L1148.78,302.00 L1152.59,303.31 L1156.39,304.60 L1160.20,305.88 L1164.00,307.15 L1167.81,308.41 L1171.61,309.65 L1175.41,310.89 L1179.22,312.12 L1183.02,313.34 L1186.83,314.55 L1190.63,315.75 L1194.44,316.94 L1198.24,318.13 L1202.05,319.30 L1205.85,320.46 L1209.65,321.62 L1213.46,322.77 L1217.26,323.91 L1221.07,325.04 L1224.87,326.16 L1228.68,327.27 L1232.48,328.38 L1236.28,329.48 L1240.09,330.57 L1243.89,331.65 L1247.70,332.73 L1251.50,333.79 L1255.31,334.86 L1259.11,335.91 L1262.92,336.96 L1266.72,337.99 L1270.52,339.03 L1274.33,340.05 L1278.13,341.07 L1281.94,342.08 L1285.74,343.09 L1289.55,344.09 L1293.35,345.08 L1297.15,346.07 L1300.96,347.05 L1304.76,348.02 L1308.57,348.99 L1312.37,349.95 L1316.18,350.91 L1319.98,351.86 L1323.79,352.80 L1327.59,353.74 L1331.39,354.67 L1335.20,355.60 L1339.00,356.52 L1342.81,357.44 L1346.61,358.35 L1350.42,359.25 L1354.22,360.15 L1358.03,361.05 L1361.83,361.94 L1365.63,362.82 L1369.44,363.70 L1373.24,364.58 L1377.05,365.45 L1380.85,366.31 L1384.66,367.17 L1388.46,368.03 L1392.26,368.88 L1396.07,369.72 L1399.87,370.57 L1403.68,371.40 L1407.48,372.24 L1411.29,373.06 L1415.09,373.89 L1418.89,374.71 L1422.70,375.52 L1426.50,376.33 L1430.31,377.14 L1434.11,377.94 L1437.92,378.74 L1441.72,379.53 L1445.53,380.32 L1449.33,381.11 L1453.13,381.89 L1456.94,382.67 L1460.74,383.44 L1464.55,384.21 L1468.35,384.98 L1472.16,385.74 L1475.96,386.50 L1479.76,387.26 L1483.57,388.01 L1487.37,388.75 L1491.18,389.50 L1494.98,390.24 L1498.79,390.98 L1502.59,391.71 L1506.40,392.44 L1510.20,393.17" fill="none" stroke="#629fe2" stroke-opacity="0.2" stroke-width="6.4" stroke-linejoin="round" stroke-linecap="round"/>
<path d="M901.50,178.75 L905.30,181.63 L909.11,184.45 L912.91,187.22 L916.72,189.94 L920.52,192.61 L924.33,195.24 L928.13,197.82 L931.93,200.36 L935.74,202.87 L939.54,205.33 L943.35,207.75 L947.15,210.13 L950.96,212.48 L954.76,214.80 L958.57,217.08 L962.37,219.32 L966.17,221.54 L969.98,223.72 L973.78,225.87 L977.59,228.00 L981.39,230.09 L985.20,232.16 L989.00,234.20 L992.80,236.21 L996.61,238.20 L1000.41,240.16 L1004.22,242.10 L1008.02,244.01 L1011.83,245.90 L1015.63,247.77 L1019.44,249.61 L1023.24,251.44 L1027.04,253.24 L1030.85,255.02 L1034.65,256.78 L1038.46,258.52 L1042.26,260.24 L1046.07,261.95 L1049.87,263.63 L1053.67,265.30 L1057.48,266.94 L1061.28,268.58 L1065.09,270.19 L1068.89,271.79 L1072.70,273.37 L1076.50,274.93 L1080.31,276.48 L1084.11,278.02 L1087.91,279.53 L1091.72,281.04 L1095.52,282.53 L1099.33,284.00 L1103.13,285.47 L1106.94,286.91 L1110.74,288.35 L1114.55,289.77 L1118.35,291.18 L1122.15,292.57 L1125.96,293.96 L1129.76,295.33 L1133.57,296.69 L1137.37,298.03 L1141.18,299.37 L1144.98,300.69 L1148.78,302.00 L1152.59,303.31 L1156.39,304.60 L1160.20,305.88 L1164.00,307.15 L1167.81,308.41 L1171.61,309.65 L1175.41,310.89 L1179.22,312.12 L1183.02,313.34 L1186.83,314.55 L1190.63,315.75 L1194.44,316.94 L1198.24,318.13 L1202.05,319.30 L1205.85,320.46 L1209.65,321.62 L1213.46,322.77 L1217.26,323.91 L1221.07,325.04 L1224.87,326.16 L1228.68,327.27 L1232.48,328.38 L1236.28,329.48 L1240.09,330.57 L1243.89,331.65 L1247.70,332.73 L1251.50,333.79 L1255.31,334.86 L1259.11,335.91 L1262.92,336.96 L1266.72,337.99 L1270.52,339.03 L1274.33,340.05 L1278.13,341.07 L1281.94,342.08 L1285.74,343.09 L1289.55,344.09 L1293.35,345.08 L1297.15,346.07 L1300.96,347.05 L1304.76,348.02 L1308.57,348.99 L1312.37,349.95 L1316.18,350.91 L1319.98,351.86 L1323.79,352.80 L1327.59,353.74 L1331.39,354.67 L1335.20,355.60 L1339.00,356.52 L1342.81,357.44 L1346.61,358.35 L1350.42,359.25 L1354.22,360.15 L1358.03,361.05 L1361.83,361.94 L1365.63,362.82 L1369.44,363.70 L1373.24,364.58 L1377.05,365.45 L1380.85,366.31 L1384.66,367.17 L1388.46,368.03 L1392.26,368.88 L1396.07,369.72 L1399.87,370.57 L1403.68,371.40 L1407.48,372.24 L1411.29,373.06 L1415.09,373.89 L1418.89,374.71 L1422.70,375.52 L1426.50,376.33 L1430.31,377.14 L1434.11,377.94 L1437.92,378.74 L1441.72,379.53 L1445.53,380.32 L1449.33,381.11 L1453.13,381.89 L1456.94,382.67 L1460.74,383.44 L1464.55,384.21 L1468.35,384.98 L1472.16,385.74 L1475.96,386.50 L1479.76,387.26 L1483.57,388.01 L1487.37,388.75 L1491.18,389.50 L1494.98,390.24 L1498.79,390.98 L1502.59,391.71 L1506.40,392.44 L1510.20,393.17" fill="none" stroke="#629fe2" stroke-width="3.8" stroke-linejoin="round" stroke-linecap="round"/>
<path d="M93.00,19.00 V420.80 M742.10,19.00 V420.80" fill="none" stroke="#707070" stroke-width="1.80"/>
<path d="M92.10,19.70 H743.00 M92.10,420.10 H743.00" fill="none" stroke="#4a4a4a" stroke-width="1.40"/>
<path d="M881.50,18.95 V420.75 M1530.50,18.95 V420.75" fill="none" stroke="#1c1c1c" stroke-width="1.20"/>
<path d="M880.90,19.70 H1531.10 M880.90,420.00 H1531.10" fill="none" stroke="#2a2a2a" stroke-width="1.50"/>
<g stroke="#111" stroke-width="1.9">
<line x1="114.20" y1="420.10" x2="114.20" y2="412.50"/>
<line x1="114.20" y1="19.70" x2="114.20" y2="27.30"/>
<line x1="182.57" y1="420.10" x2="182.57" y2="412.50"/>
<line x1="182.57" y1="19.70" x2="182.57" y2="27.30"/>
<line x1="255.05" y1="420.10" x2="255.05" y2="412.50"/>
<line x1="255.05" y1="19.70" x2="255.05" y2="27.30"/>
<line x1="395.90" y1="420.10" x2="395.90" y2="412.50"/>
<line x1="395.90" y1="19.70" x2="395.90" y2="27.30"/>
<line x1="478.30" y1="420.10" x2="478.30" y2="412.50"/>
<line x1="478.30" y1="19.70" x2="478.30" y2="27.30"/>
<line x1="536.76" y1="420.10" x2="536.76" y2="412.50"/>
<line x1="536.76" y1="19.70" x2="536.76" y2="27.30"/>
<line x1="582.10" y1="420.10" x2="582.10" y2="412.50"/>
<line x1="582.10" y1="19.70" x2="582.10" y2="27.30"/>
<line x1="619.15" y1="420.10" x2="619.15" y2="412.50"/>
<line x1="619.15" y1="19.70" x2="619.15" y2="27.30"/>
<line x1="650.47" y1="420.10" x2="650.47" y2="412.50"/>
<line x1="650.47" y1="19.70" x2="650.47" y2="27.30"/>
<line x1="677.61" y1="420.10" x2="677.61" y2="412.50"/>
<line x1="677.61" y1="19.70" x2="677.61" y2="27.30"/>
<line x1="701.54" y1="420.10" x2="701.54" y2="412.50"/>
<line x1="701.54" y1="19.70" x2="701.54" y2="27.30"/>
<line x1="722.95" y1="420.10" x2="722.95" y2="412.50"/>
<line x1="722.95" y1="19.70" x2="722.95" y2="27.30"/>
<line x1="93.00" y1="413.30" x2="100.60" y2="413.30"/>
<line x1="742.10" y1="413.30" x2="734.50" y2="413.30"/>
<line x1="93.00" y1="340.30" x2="100.60" y2="340.30"/>
<line x1="742.10" y1="340.30" x2="734.50" y2="340.30"/>
<line x1="93.00" y1="267.30" x2="100.60" y2="267.30"/>
<line x1="742.10" y1="267.30" x2="734.50" y2="267.30"/>
<line x1="93.00" y1="194.30" x2="100.60" y2="194.30"/>
<line x1="742.10" y1="194.30" x2="734.50" y2="194.30"/>
<line x1="93.00" y1="121.30" x2="100.60" y2="121.30"/>
<line x1="742.10" y1="121.30" x2="734.50" y2="121.30"/>
<line x1="93.00" y1="48.30" x2="100.60" y2="48.30"/>
<line x1="742.10" y1="48.30" x2="734.50" y2="48.30"/>
<line x1="901.50" y1="420.00" x2="901.50" y2="412.40"/>
<line x1="901.50" y1="19.70" x2="901.50" y2="27.30"/>
<line x1="1104.40" y1="420.00" x2="1104.40" y2="412.40"/>
<line x1="1104.40" y1="19.70" x2="1104.40" y2="27.30"/>
<line x1="1307.30" y1="420.00" x2="1307.30" y2="412.40"/>
<line x1="1307.30" y1="19.70" x2="1307.30" y2="27.30"/>
<line x1="1510.20" y1="420.00" x2="1510.20" y2="412.40"/>
<line x1="1510.20" y1="19.70" x2="1510.20" y2="27.30"/>
<line x1="881.50" y1="99.50" x2="889.10" y2="99.50"/>
<line x1="1530.50" y1="99.50" x2="1522.90" y2="99.50"/>
<line x1="881.50" y1="188.55" x2="889.10" y2="188.55"/>
<line x1="1530.50" y1="188.55" x2="1522.90" y2="188.55"/>
<line x1="881.50" y1="277.60" x2="889.10" y2="277.60"/>
<line x1="1530.50" y1="277.60" x2="1522.90" y2="277.60"/>
<line x1="881.50" y1="366.65" x2="889.10" y2="366.65"/>
<line x1="1530.50" y1="366.65" x2="1522.90" y2="366.65"/>
</g>
<g font-family="&quot;Liberation Sans&quot;, Arial, Helvetica, sans-serif" fill="#111" stroke-linejoin="round">
<text transform="translate(116.20,446.50) scale(1,1.0500)" font-size="29.10" text-anchor="middle" stroke="#111" stroke-width="0.60">0.5</text>
<text transform="translate(181.57,446.50) scale(1,1.0500)" font-size="29.10" text-anchor="middle" stroke="#111" stroke-width="0.60">0.7</text>
<text transform="translate(254.05,446.50) scale(1,1.0500)" font-size="29.10" text-anchor="middle" stroke="#111" stroke-width="0.60">1</text>
<text transform="translate(395.60,446.50) scale(1,1.0500)" font-size="29.10" text-anchor="middle" stroke="#111" stroke-width="0.60">2</text>
<text transform="translate(478.30,446.50) scale(1,1.0500)" font-size="29.10" text-anchor="middle" stroke="#111" stroke-width="0.60">3</text>
<text transform="translate(582.60,446.50) scale(1,1.0500)" font-size="29.10" text-anchor="middle" stroke="#111" stroke-width="0.60">5</text>
<text transform="translate(722.95,446.50) scale(1,1.0500)" font-size="29.10" text-anchor="middle" stroke="#111" stroke-width="0.60">10</text>
<text transform="translate(88.00,419.50) scale(1,1.0500)" font-size="29.10" text-anchor="end" stroke="#111" stroke-width="0.60">0.0</text>
<text transform="translate(88.00,349.50) scale(1,1.0500)" font-size="29.10" text-anchor="end" stroke="#111" stroke-width="0.60">0.5</text>
<text transform="translate(88.00,276.50) scale(1,1.0500)" font-size="29.10" text-anchor="end" stroke="#111" stroke-width="0.60">1.0</text>
<text transform="translate(88.00,206.10) scale(1,1.0500)" font-size="29.10" text-anchor="end" stroke="#111" stroke-width="0.60">1.5</text>
<text transform="translate(88.00,128.80) scale(1,1.0500)" font-size="29.10" text-anchor="end" stroke="#111" stroke-width="0.60">2.0</text>
<text transform="translate(88.00,60.30) scale(1,1.0500)" font-size="29.10" text-anchor="end" stroke="#111" stroke-width="0.60">2.5</text>
<text transform="translate(902.90,447.90) scale(1,1.0500)" font-size="29.10" text-anchor="middle" stroke="#111" stroke-width="0.60">10</text>
<text transform="translate(1102.00,447.90) scale(1,1.0500)" font-size="29.10" text-anchor="middle" stroke="#111" stroke-width="0.60">20</text>
<text transform="translate(1306.70,447.90) scale(1,1.0500)" font-size="29.10" text-anchor="middle" stroke="#111" stroke-width="0.60">30</text>
<text transform="translate(1510.20,447.90) scale(1,1.0500)" font-size="29.10" text-anchor="middle" stroke="#111" stroke-width="0.60">40</text>
<text transform="translate(878.40,108.80) scale(1,1.0500)" font-size="29.10" text-anchor="end" stroke="#111" stroke-width="0.60">-25</text>
<text transform="translate(878.40,200.50) scale(1,1.0500)" font-size="29.10" text-anchor="end" stroke="#111" stroke-width="0.60">-30</text>
<text transform="translate(878.40,288.40) scale(1,1.0500)" font-size="29.10" text-anchor="end" stroke="#111" stroke-width="0.60">-35</text>
<text transform="translate(878.40,375.20) scale(1,1.0500)" font-size="29.10" text-anchor="end" stroke="#111" stroke-width="0.60">-40</text>
<text transform="translate(419.80,476.00) scale(1,1.0200)" font-size="29.20" text-anchor="middle" stroke="#111" stroke-width="0.60">Intrinsic Q [million]</text>
<text transform="translate(1180.90,485.00) scale(1,1.0200)" font-size="29.20" text-anchor="middle" stroke="#111" stroke-width="0.60">Magnitude of frequency shift [GHz]</text>
<text transform="translate(23.60,227.30) rotate(-90) scale(1,0.9550)" font-size="29.10" text-anchor="middle" stroke="#111" stroke-width="0.60">On-chip loss [dB]</text>
<text transform="translate(787.60,231.40) rotate(-90) scale(1,0.9800)" font-size="29.00" text-anchor="middle" stroke="#111" stroke-width="0.60">Nomalized power on</text>
<text transform="translate(822.50,216.50) rotate(-90) scale(1,0.9550)" font-size="29.00" text-anchor="middle" stroke="#111" stroke-width="0.60">parasitic sideband [dB]</text>
<text transform="translate(-0.30,24.00) scale(1,1.0300)" font-size="32.50" font-weight="bold" stroke="#111" stroke-width="0.90">a</text>
<text transform="translate(766.10,24.50)" font-size="33.50" font-weight="bold" stroke="#111" stroke-width="0.90">b</text>
<line x1="391" y1="63.30" x2="476" y2="63.30" stroke="#629fe2" stroke-opacity="0.2" stroke-width="6.4"/>
<line x1="392" y1="63.30" x2="475" y2="63.30" stroke="#629fe2" stroke-width="3.8"/>
<text transform="translate(508.00,69.40) scale(1,1.0500)" font-size="29.30" stroke="#111" stroke-width="0.60">γ = 2π × 10 GHz</text>
<line x1="391" y1="113.70" x2="476" y2="113.70" stroke="#e8a94a" stroke-opacity="0.2" stroke-width="6.4"/>
<line x1="392" y1="113.70" x2="475" y2="113.70" stroke="#e8a94a" stroke-width="3.8"/>
<text transform="translate(508.30,119.30) scale(1,1.0500)" font-size="29.30" stroke="#111" stroke-width="0.60">γ = 2π × 5 GHz</text>
<line x1="391" y1="164.10" x2="476" y2="164.10" stroke="#6fe3c8" stroke-opacity="0.2" stroke-width="6.4"/>
<line x1="392" y1="164.10" x2="475" y2="164.10" stroke="#6fe3c8" stroke-width="3.8"/>
<text transform="translate(509.00,170.20) scale(1,1.0500)" font-size="29.30" stroke="#111" stroke-width="0.60">γ = 2π × 2 GHz</text>
<line x1="1223.6" y1="47.00" x2="1288.3" y2="47.00" stroke="#864ac6" stroke-opacity="0.2" stroke-width="6.4"/>
<line x1="1224.6" y1="47.00" x2="1287.3" y2="47.00" stroke="#864ac6" stroke-width="3.8"/>
<text transform="translate(1294.80,54.50) scale(1,1.0500)" font-size="29.15" stroke="#111" stroke-width="0.60">γ = 2π × 7 GHz</text>
<line x1="1223.6" y1="84.50" x2="1288.3" y2="84.50" stroke="#6fe3c8" stroke-opacity="0.2" stroke-width="6.4"/>
<line x1="1224.6" y1="84.50" x2="1287.3" y2="84.50" stroke="#6fe3c8" stroke-width="3.8"/>
<text transform="translate(1294.80,91.80) scale(1,1.0500)" font-size="29.15" stroke="#111" stroke-width="0.60">γ = 2π × 5 GHz</text>
<line x1="1223.6" y1="122.00" x2="1288.3" y2="122.00" stroke="#e8a94a" stroke-opacity="0.2" stroke-width="6.4"/>
<line x1="1224.6" y1="122.00" x2="1287.3" y2="122.00" stroke="#e8a94a" stroke-width="3.8"/>
<text transform="translate(1294.80,129.10) scale(1,1.0500)" font-size="29.15" stroke="#111" stroke-width="0.60">γ = 2π × 3 GHz</text>
<line x1="1223.6" y1="159.50" x2="1288.3" y2="159.50" stroke="#629fe2" stroke-opacity="0.2" stroke-width="6.4"/>
<line x1="1224.6" y1="159.50" x2="1287.3" y2="159.50" stroke="#629fe2" stroke-width="3.8"/>
<text transform="translate(1294.80,166.40) scale(1,1.0500)" font-size="29.15" stroke="#111" stroke-width="0.60">γ = 2π × 1 GHz</text>
<text transform="translate(105.60,214.70) scale(1,1.0300)" font-size="20.60" stroke="#111" stroke-width="0.30">11.0 GHz dev</text>
<text transform="translate(166.90,256.80) scale(1,1.0300)" font-size="20.60" stroke="#111" stroke-width="0.30">12.5 GHz dev</text>
<text transform="translate(265.00,318.90) scale(1,1.0300)" font-size="20.70" stroke="#111" stroke-width="0.30">28.2 GHz dev</text>
</g>
<polygon points="103.3,223.3 125.1,223.3 114.2,244.4" fill="#d574f2"/>
<rect x="200" y="269.1" width="19.8" height="20" fill="#60f010"/>
<polygon points="261.9,348.1 274.3,336.9 286.8,348.1 274.3,359.4" fill="#6a6ee8"/>
</svg>
</body></html>
